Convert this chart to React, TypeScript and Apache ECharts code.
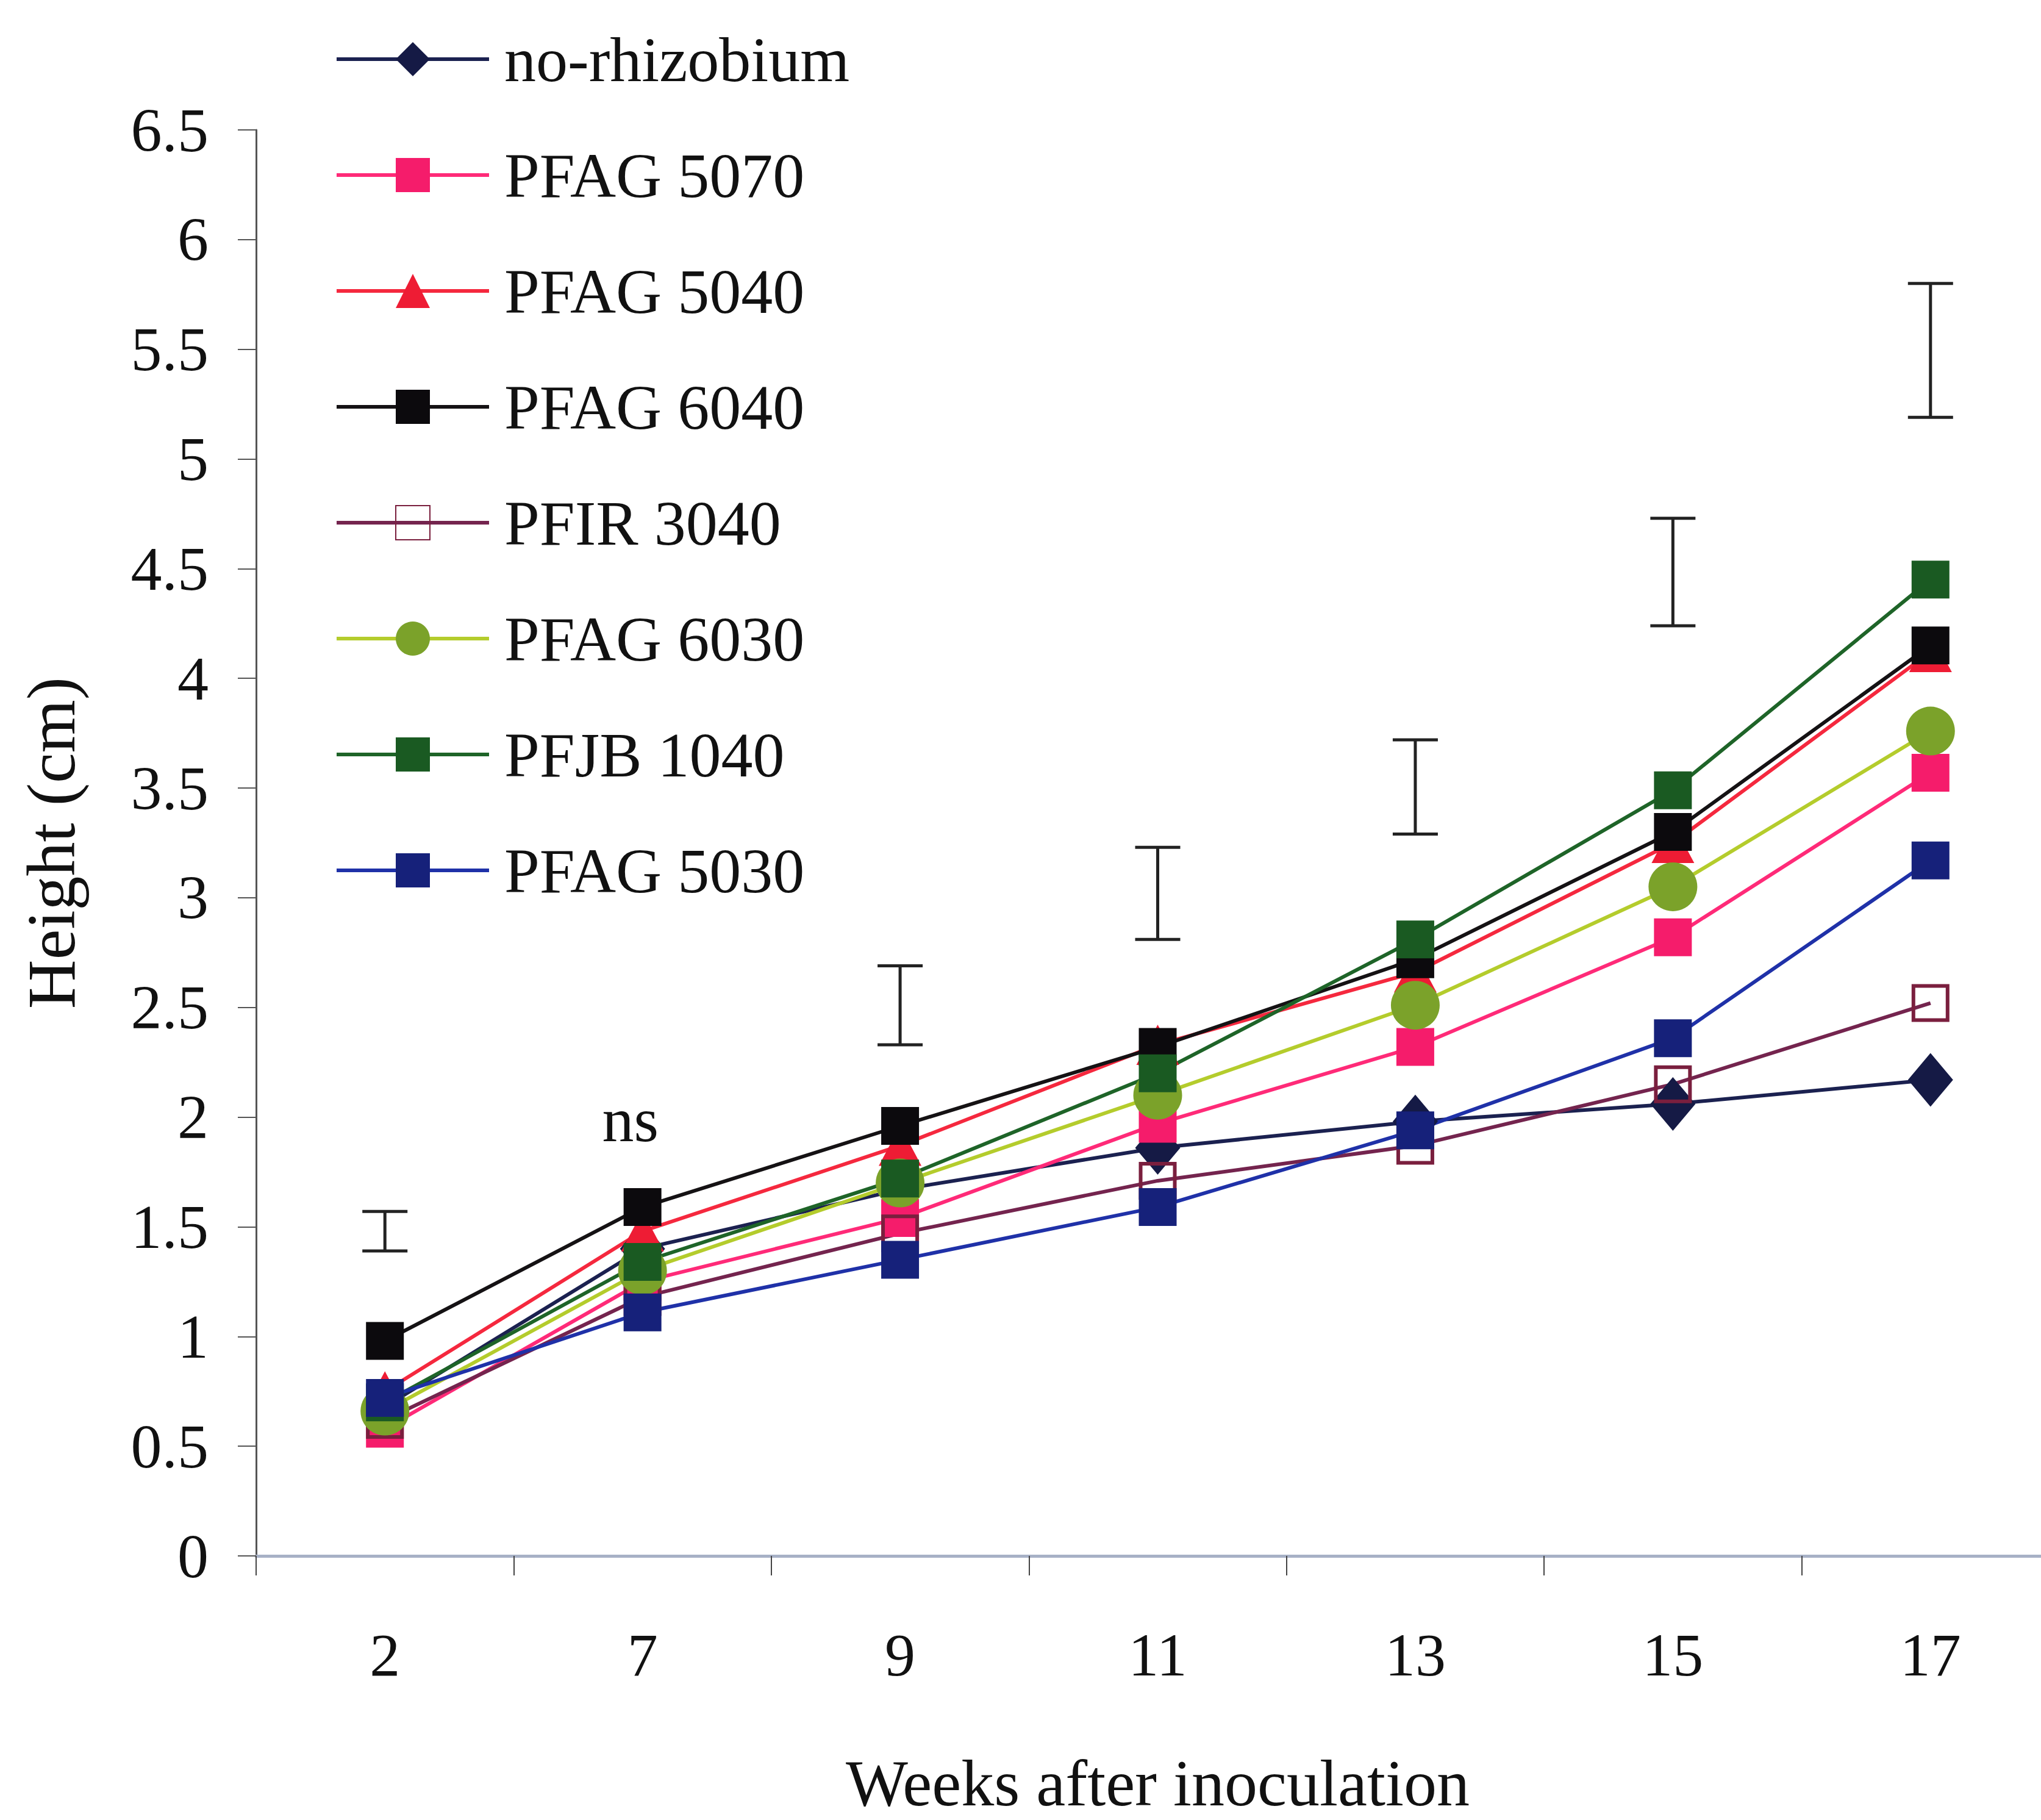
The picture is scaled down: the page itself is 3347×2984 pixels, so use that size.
import React, { useEffect, useRef } from 'react';
import * as echarts from 'echarts';

const weeks = ['2', '7', '9', '11', '13', '15', '17'];

const noRhizobium = [0.68, 1.4, 1.67, 1.86, 1.98, 2.06, 2.17];
const pfag5070 = [0.58, 1.25, 1.54, 1.97, 2.32, 2.82, 3.57];
const pfag5040 = [0.75, 1.48, 1.87, 2.33, 2.66, 3.25, 4.12];
const pfag6040 = [0.98, 1.59, 1.96, 2.32, 2.72, 3.3, 4.15];
const pfir3040 = [0.62, 1.18, 1.47, 1.71, 1.87, 2.15, 2.52];
const pfag6030 = [0.66, 1.3, 1.7, 2.1, 2.51, 3.05, 3.76];
const pfjb1040 = [0.7, 1.34, 1.72, 2.2, 2.81, 3.49, 4.45];
const pfag5030 = [0.72, 1.11, 1.35, 1.59, 1.94, 2.36, 3.17];

// LSD bars (low, high) per week; null where not significant
const errLow = [1.39, null, 2.33, 2.81, 3.29, 4.24, 5.19];
const errHigh = [1.57, null, 2.69, 3.23, 3.72, 4.73, 5.8];
const nsWeekIndex = 1;
const nsValue = 1.99;
const nsText = 'ns';

const yMin = 0;
const yMax = 6.5;
const yInterval = 0.5;

const FONT = '"Liberation Serif", "Times New Roman", serif';

export default function App() {
  const ref = useRef<HTMLDivElement>(null);

  useEffect(() => {
    document.body.style.margin = '0';
    document.body.style.overflow = 'hidden';
    document.documentElement.style.overflow = 'hidden';
    const chart = echarts.init(ref.current as HTMLDivElement, null, { renderer: 'svg' });

    const LW = 6;
    const mk = (
      name: string,
      data: number[],
      color: string,
      lineColor: string,
      symbol: string,
      size: number | number[]
    ) => ({
      name,
      type: 'line',
      data,
      symbol,
      symbolSize: size,
      lineStyle: { color: lineColor, width: LW },
      itemStyle: { color },
      z: 3,
    });

    const series: any[] = [
      mk('no-rhizobium', noRhizobium, '#151a45', '#1b2150', 'diamond', [74, 88]),
      mk('PFAG 5070', pfag5070, '#f51c6b', '#ff2a78', 'rect', 62),
      mk('PFAG 5040', pfag5040, '#ee1c34', '#f5283e', 'triangle', [70, 66]),
      mk('PFAG 6040', pfag6040, '#0c0a0d', '#151214', 'rect', 62),
      {
        name: 'PFIR 3040',
        type: 'line',
        data: pfir3040,
        symbol: 'rect',
        symbolSize: 56,
        lineStyle: { color: '#74244e', width: LW },
        itemStyle: { color: 'rgba(255,255,255,0)', borderColor: '#7a1f3e', borderWidth: 6 },
        z: 3,
      },
      mk('PFAG 6030', pfag6030, '#7ba22a', '#b4cc2c', 'circle', 80),
      mk('PFJB 1040', pfjb1040, '#1a5a22', '#1e6428', 'rect', 62),
      mk('PFAG 5030', pfag5030, '#16217a', '#1f31a8', 'rect', 62),
    ];

    const errData = weeks
      .map((_, i) => (errLow[i] == null ? null : [i, errLow[i], errHigh[i]]))
      .filter((d) => d !== null);

    series.push({
      name: 'LSD',
      type: 'custom',
      data: errData,
      encode: { x: 0, y: [1, 2] },
      z: 2,
      renderItem: (params: any, api: any) => {
        const x = api.value(0);
        const lo = api.coord([x, api.value(1)]);
        const hi = api.coord([x, api.value(2)]);
        const half = 37;
        const style = { stroke: '#222222', lineWidth: 5 };
        return {
          type: 'group',
          children: [
            { type: 'line', shape: { x1: lo[0], y1: lo[1], x2: hi[0], y2: hi[1] }, style },
            { type: 'line', shape: { x1: lo[0] - half, y1: lo[1], x2: lo[0] + half, y2: lo[1] }, style },
            { type: 'line', shape: { x1: hi[0] - half, y1: hi[1], x2: hi[0] + half, y2: hi[1] }, style },
          ],
        };
      },
    });

    series.push({
      name: 'ns',
      type: 'custom',
      data: [[nsWeekIndex, nsValue]],
      encode: { x: 0, y: 1 },
      z: 2,
      renderItem: (params: any, api: any) => {
        const p = api.coord([api.value(0), api.value(1)]);
        return {
          type: 'text',
          x: p[0] - 20,
          y: p[1],
          style: {
            text: nsText,
            fill: '#111',
            font: `104px ${FONT}`,
            align: 'center',
            verticalAlign: 'middle',
          },
        };
      },
    });

    chart.setOption({
      animation: false,
      backgroundColor: '#ffffff',
      legend: {
        data: ['no-rhizobium', 'PFAG 5070', 'PFAG 5040', 'PFAG 6040', 'PFIR 3040', 'PFAG 6030', 'PFJB 1040', 'PFAG 5030'],
        orient: 'vertical',
        left: 544,
        top: 40,
        itemWidth: 250,
        itemHeight: 70,
        itemGap: 86,
        lineStyle: { width: 6 },
        textStyle: { fontFamily: FONT, fontSize: 104, color: '#111', padding: [0, 0, 0, 20] },
      },
      grid: { left: 420, top: 213, right: 3, bottom: 433, containLabel: false },
      xAxis: {
        type: 'category',
        data: weeks,
        boundaryGap: true,
        name: 'Weeks after inoculation',
        nameLocation: 'middle',
        nameGap: 318,
        nameTextStyle: { fontFamily: FONT, fontSize: 108, color: '#111' },
        axisLine: { lineStyle: { color: '#a7b1c6', width: 5 } },
        axisTick: { show: true, alignWithLabel: false, length: 32, lineStyle: { color: '#444', width: 2 } },
        axisLabel: { fontFamily: FONT, fontSize: 100, color: '#111', margin: 112 },
        splitLine: { show: false },
      },
      yAxis: {
        type: 'value',
        min: yMin,
        max: yMax,
        interval: yInterval,
        name: 'Height (cm)',
        nameLocation: 'middle',
        nameRotate: 90,
        nameGap: 280,
        nameTextStyle: { fontFamily: FONT, fontSize: 112, color: '#111' },
        axisLine: { show: true, lineStyle: { color: '#555', width: 3 } },
        axisTick: { show: true, length: 30, lineStyle: { color: '#555', width: 2 } },
        axisLabel: { fontFamily: FONT, fontSize: 102, color: '#111', margin: 78 },
        splitLine: { show: false },
      },
      series,
    });

    return () => chart.dispose();
  }, []);

  return <div ref={ref} style={{ width: 3380, height: 2984 }} />;
}
